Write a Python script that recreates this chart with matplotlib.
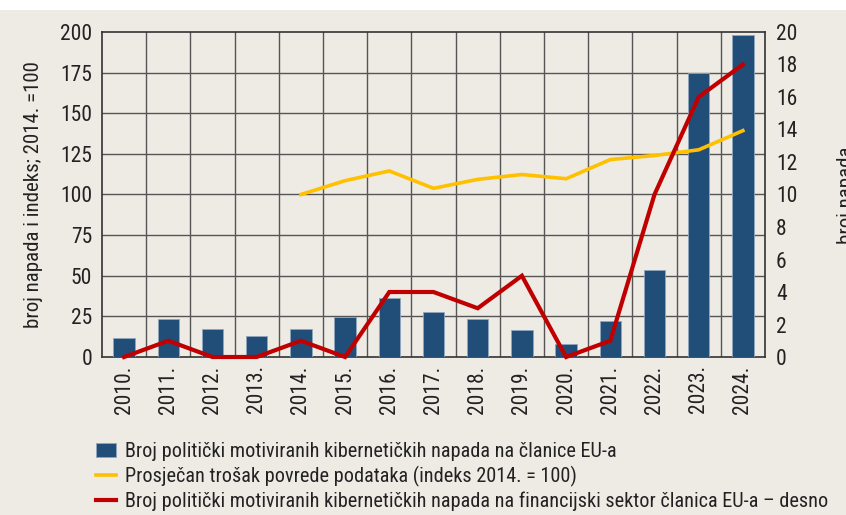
import matplotlib
matplotlib.use("Agg")
import matplotlib.pyplot as plt
from matplotlib import font_manager as fm
from matplotlib.patches import Patch, Rectangle
from matplotlib.lines import Line2D
import numpy as np

names = {f.name for f in fm.fontManager.ttflist}
chosen = None
for cand in ['Liberation Sans Narrow', 'Roboto Condensed', 'Open Sans Condensed', 'DejaVu Sans Condensed']:
    if cand in names:
        chosen = cand
        break
if chosen is None:
    plt.rcParams['font.family'] = ['DejaVu Sans']
else:
    plt.rcParams['font.family'] = [chosen, 'DejaVu Sans']
plt.rcParams['font.stretch'] = 'condensed'

years = ["2010.", "2011.", "2012.", "2013.", "2014.", "2015.", "2016.", "2017.",
         "2018.", "2019.", "2020.", "2021.", "2022.", "2023.", "2024."]
attacks_eu = [11.5, 23.4, 17.5, 12.8, 17.5, 24.8, 36.2, 28.0, 23.3, 16.4, 8.2, 22.3, 53.5, 175, 198]
cost_years = ["2014.", "2015.", "2016.", "2017.", "2018.", "2019.", "2020.", "2021.", "2022.", "2023.", "2024."]
cost_index = [100, 108.5, 114.5, 103.8, 109.3, 112.3, 109.7, 121.5, 124, 127.5, 139.3]
attacks_fin = [0, 1, 0, 0, 1, 0, 4, 4, 3, 5, 0, 1, 10, 16, 18]

left_ticks = list(range(0, 201, 25))
right_ticks = list(range(0, 21, 2))

bg = "#EEEBE5"
bar_color = "#204E79"
yellow = "#FFC000"
red = "#C00000"
txt = "#222222"

fig = plt.figure(figsize=(8.46, 5.15), dpi=100)
fig.patch.set_facecolor(bg)
fig.patches.append(Rectangle((0, 1 - 10/515), 1, 10/515, transform=fig.transFigure,
                             facecolor="white", edgecolor="none", zorder=0))

ax = fig.add_axes([102/846, 1 - 357/515, (765 - 102)/846, (357 - 32)/515])
ax.set_facecolor(bg)
x = np.arange(len(years))
ax.bar(x, attacks_eu, width=0.48, color=bar_color, edgecolor="#8FA6BD", linewidth=0.6, zorder=3)
cx = [years.index(y) for y in cost_years]
ax.plot(cx, cost_index, color=yellow, lw=2.6, zorder=4, solid_joinstyle="miter")
ax.set_xlim(-0.5, len(years) - 0.5)
ax.set_ylim(0, 200)
ax.set_yticks(left_ticks)
ax.set_xticks(x)
ax.set_xticklabels(years, rotation=90)
ax.tick_params(axis='both', length=0, labelsize=15.5, colors=txt)
ax.tick_params(axis='y', pad=7)
ax.tick_params(axis='x', pad=6)
for v in left_ticks[1:-1]:
    ax.axhline(v, color="#555555", lw=1.0, zorder=1)
for b in np.arange(0.5, len(years) - 1, 1):
    ax.axvline(b, color="#555555", lw=1.0, zorder=1)
for s in ax.spines.values():
    s.set_color("#333333")
    s.set_linewidth(1.2)
ax.set_ylabel("broj napada i indeks; 2014. =100", fontsize=15, color=txt, labelpad=12)

ax2 = ax.twinx()
ax2.plot(x, attacks_fin, color=red, lw=3.0, zorder=5, clip_on=False, solid_joinstyle="miter")
ax2.set_ylim(0, 20)
ax2.set_yticks(right_ticks)
ax2.tick_params(axis='y', length=0, labelsize=15.5, colors=txt, pad=8)
for s in ax2.spines.values():
    s.set_visible(False)

fig.text(846/846, 1 - 195/515, "broj napada", rotation=90, ha="center", va="center",
         fontsize=15, color=txt)

handles = [Patch(facecolor=bar_color, edgecolor="#8FA6BD", linewidth=0.6),
           Line2D([], [], color=yellow, lw=2.6),
           Line2D([], [], color=red, lw=3.0)]
labels = ["Broj politički motiviranih kibernetičkih napada na članice EU-a",
          "Prosječan trošak povrede podataka (indeks 2014. = 100)",
          "Broj politički motiviranih kibernetičkih napada na financijski sektor članica EU-a – desno"]
fig.legend(handles, labels, loc="upper left", bbox_to_anchor=(88/846, 1 - 434/515),
           frameon=False, fontsize=14.6, handlelength=1.0, handletextpad=0.4,
           labelspacing=0.23, borderaxespad=0, labelcolor=txt)

fig.savefig("out.png", dpi=100, facecolor=fig.get_facecolor())
